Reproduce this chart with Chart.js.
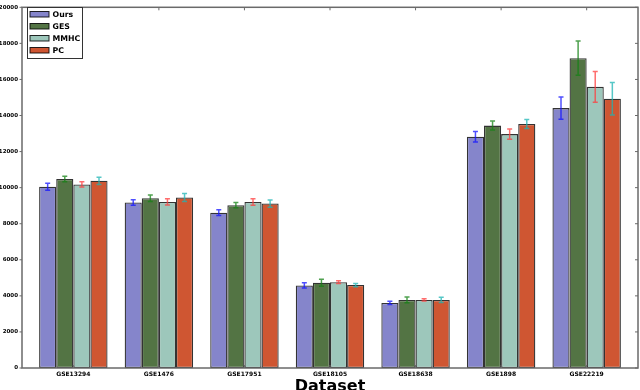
<!DOCTYPE html>
<html>
<head>
<meta charset="utf-8">
<script src="https://cdn.jsdelivr.net/npm/chart.js@4.4.1/dist/chart.umd.min.js"></script>
<style>
html, body { margin: 0; padding: 0; background: #fff; }
#wrap { width: 640px; height: 390px; }
</style>
</head>
<body>
<div id="wrap"><canvas id="chart"></canvas></div>
<script>
const datasetNames = ['GSE13294', 'GSE1476', 'GSE17951', 'GSE18105', 'GSE18638', 'GSE1898', 'GSE22219']
const methods = ['Ours', 'GES', 'MMHC', 'PC']

const ours    = [10050, 9180, 8610, 4580, 3610, 12820, 14410]
const oursErr = [200, 150, 160, 140, 90, 290, 620]
const ges     = [10480, 9410, 9030, 4725, 3775, 13440, 17180]
const gesErr  = [150, 180, 150, 190, 160, 250, 950]
const mmhc    = [10180, 9210, 9210, 4760, 3775, 12970, 15590]
const mmhcErr = [150, 170, 180, 80, 60, 280, 850]
const pc      = [10380, 9450, 9120, 4600, 3775, 13530, 14930]
const pcErr   = [200, 220, 200, 90, 150, 250, 900]

const yTicks = [0, 2000, 4000, 6000, 8000, 10000, 12000, 14000, 16000, 18000, 20000]

const BAR_COLORS = ['#8585cb', '#537444', '#9dc7bb', '#cf5632']
const ERR_COLORS = ['rgba(20,20,255,0.75)', 'rgba(20,130,20,0.75)', 'rgba(255,60,60,0.75)', 'rgba(30,180,180,0.75)']

const values = [ours, ges, mmhc, pc]
const errors = [oursErr, gesErr, mmhcErr, pcErr]

// groups sit at 0..6, each 0.8 wide; tick at the middle
const centers = datasetNames.map((n, i) => i + 0.4)

const datasets = methods.map((m, k) => ({
    label: m,
    data: values[k].map((v, i) => ({ x: centers[i], y: v })),
    err: errors[k],
    backgroundColor: BAR_COLORS[k],
    borderColor: 'rgba(0,0,0,0.8)',
    borderWidth: 1.3,
    borderSkipped: false,
    categoryPercentage: 0.8,
    barPercentage: 1.0
}))

const SPINE = '#6a6a6a'

const frame = {
    id: 'frame',
    afterDatasetsDraw(chart) {
        const ctx = chart.ctx
        const y = chart.scales.y
        // error bars
        chart.data.datasets.forEach((ds, k) => {
            const meta = chart.getDatasetMeta(k)
            ctx.save()
            ctx.strokeStyle = ERR_COLORS[k]
            ctx.lineWidth = 1.5
            meta.data.forEach((bar, i) => {
                const v = ds.data[i].y, e = ds.err[i]
                const top = y.getPixelForValue(v + e), bot = y.getPixelForValue(v - e)
                ctx.beginPath()
                ctx.moveTo(bar.x, top); ctx.lineTo(bar.x, bot)
                ctx.moveTo(bar.x - 2.5, top); ctx.lineTo(bar.x + 2.5, top)
                ctx.moveTo(bar.x - 2.5, bot); ctx.lineTo(bar.x + 2.5, bot)
                ctx.stroke()
            })
            ctx.restore()
        })
    },
    afterDraw(chart) {
        const ctx = chart.ctx
        const a = chart.chartArea
        const x = chart.scales.x, y = chart.scales.y
        ctx.save()
        ctx.strokeStyle = SPINE
        ctx.lineWidth = 1.5
        ctx.strokeRect(a.left, a.top, a.right - a.left, a.bottom - a.top)
        ctx.lineWidth = 1
        ctx.beginPath()
        centers.forEach(c => {
            const px = x.getPixelForValue(c)
            ctx.moveTo(px, a.top); ctx.lineTo(px, a.top + 3)
            ctx.moveTo(px, a.bottom); ctx.lineTo(px, a.bottom - 3)
        })
        yTicks.forEach(t => {
            const py = y.getPixelForValue(t)
            ctx.moveTo(a.right, py); ctx.lineTo(a.right - 3, py)
            ctx.moveTo(a.left, py); ctx.lineTo(a.left - 2.5, py)
        })
        ctx.stroke()

        // legend box in upper left
        const lx = 27, ly = 7, lw = 55, lh = 51
        ctx.fillStyle = '#fff'
        ctx.fillRect(lx, ly, lw, lh)
        ctx.strokeStyle = '#333'
        ctx.lineWidth = 1
        ctx.strokeRect(lx + 0.5, ly + 0.5, lw, lh)
        ctx.font = 'bold 7.8px "DejaVu Sans"'
        ctx.textBaseline = 'middle'
        chart.data.datasets.forEach((ds, k) => {
            const cy = ly + 7 + k * 12
            ctx.fillStyle = ds.backgroundColor
            ctx.fillRect(lx + 3, cy - 2.5, 19, 5.5)
            ctx.strokeStyle = 'rgba(0,0,0,0.85)'
            ctx.strokeRect(lx + 3, cy - 2.5, 19, 5.5)
            ctx.fillStyle = '#000'
            ctx.fillText(ds.label, lx + 25.5, cy + 0.5)
        })
        ctx.restore()
    }
}

new Chart(document.getElementById('chart'), {
    type: 'bar',
    data: { datasets: datasets },
    options: {
        responsive: true,
        maintainAspectRatio: false,
        animation: false,
        layout: { padding: { top: 4, right: 2, left: 0, bottom: 0 } },
        plugins: {
            legend: { display: false },
            tooltip: { enabled: false }
        },
        scales: {
            x: {
                type: 'linear',
                min: -0.2,
                max: 7.0,
                offset: false,
                grid: { display: false, drawTicks: false },
                border: { display: false },
                afterBuildTicks: s => { s.ticks = centers.map(c => ({ value: c })) },
                afterFit: s => { s.height = 22 },
                ticks: {
                    autoSkip: false,
                    maxRotation: 0,
                    padding: 3,
                    color: '#000',
                    font: { family: 'DejaVu Sans', size: 6, weight: 'bold' },
                    callback: (v, i) => datasetNames[i]
                },
                title: {
                    display: true,
                    text: 'Dataset',
                    color: '#000',
                    padding: { top: 0, bottom: -6.5 },
                    font: { family: 'DejaVu Sans', size: 16, weight: 'bold' }
                }
            },
            y: {
                min: 0,
                max: 20000,
                grid: { display: false, drawTicks: false },
                border: { display: false },
                afterFit: s => { s.width = 22 },
                ticks: {
                    stepSize: 2000,
                    padding: 4,
                    color: '#000',
                    font: { family: 'DejaVu Sans', size: 5.5, weight: 'bold' },
                    callback: v => String(v)
                }
            }
        }
    },
    plugins: [frame]
})
</script>
</body>
</html>
